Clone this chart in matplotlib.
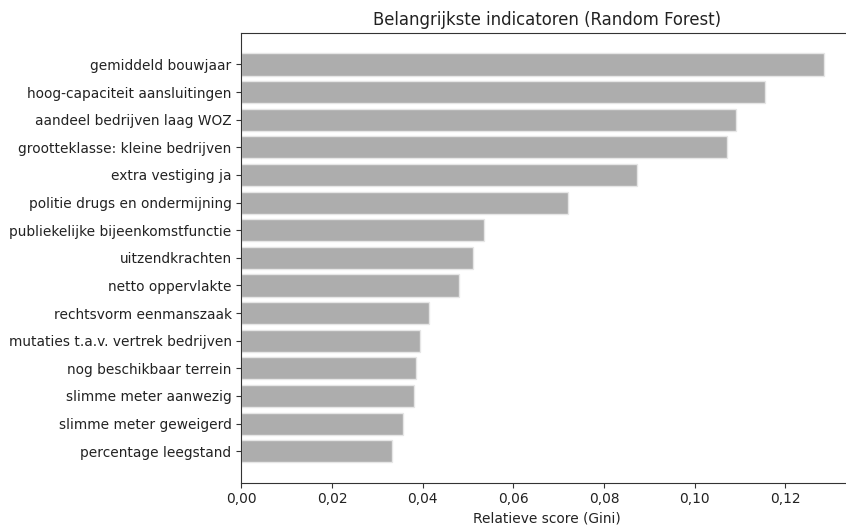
import matplotlib
matplotlib.use('Agg')
import matplotlib.pyplot as plt
from matplotlib.ticker import FuncFormatter

# indicatoren, van boven naar beneden
indicatoren = [
    'gemiddeld bouwjaar',
    'hoog-capaciteit aansluitingen',
    'aandeel bedrijven laag WOZ',
    'grootteklasse: kleine bedrijven',
    'extra vestiging ja',
    'politie drugs en ondermijning',
    'publiekelijke bijeenkomstfunctie',
    'uitzendkrachten',
    'netto oppervlakte',
    'rechtsvorm eenmanszaak',
    'mutaties t.a.v. vertrek bedrijven',
    'nog beschikbaar terrein',
    'slimme meter aanwezig',
    'slimme meter geweigerd',
    'percentage leegstand',
]
scores = [0.1284, 0.1154, 0.1090, 0.1072, 0.0872, 0.0721, 0.0536, 0.0510,
          0.0479, 0.0413, 0.0395, 0.0385, 0.0381, 0.0357, 0.0333]

# omdraaien zodat de grootste bovenaan staat
labels = indicatoren[::-1]
waarden = scores[::-1]

plt.rcParams['text.color'] = '#222222'
plt.rcParams['xtick.color'] = '#333333'
plt.rcParams['ytick.color'] = '#333333'
plt.rcParams['xtick.labelcolor'] = '#222222'
plt.rcParams['ytick.labelcolor'] = '#222222'
plt.rcParams['axes.labelcolor'] = '#222222'

fig = plt.figure(figsize=(8.46, 5.25), dpi=100)
ax = fig.add_axes([241.3 / 846, 1 - 482.7 / 525, (852.7 - 241.3) / 846, (482.7 - 33) / 525])

ax.barh(range(len(waarden)), waarden, height=0.8, color='#adadad', edgecolor='#e6e6e6', linewidth=1)
ax.set_yticks(range(len(labels)))
ax.set_yticklabels(labels)

ax.xaxis.set_major_formatter(FuncFormatter(lambda x, pos: f'{x:.2f}'.replace('.', ',')))
ax.set_xlabel('Relatieve score (Gini)', fontsize=9.9, labelpad=3.5)
ax.set_title('Belangrijkste indicatoren (Random Forest)', fontsize=11.9, pad=6)
ax.tick_params(labelsize=9.9)

for s in ax.spines.values():
    s.set_color('#333333')

fig.savefig('out.png', dpi=100)
